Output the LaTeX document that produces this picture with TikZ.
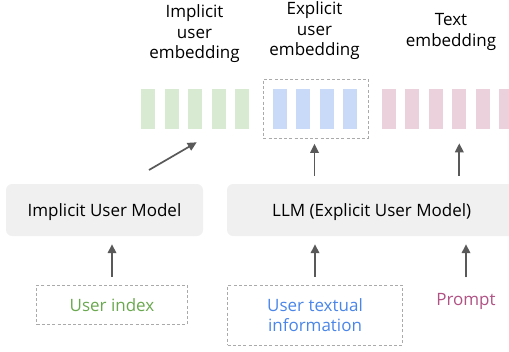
\documentclass[tikz,border=0pt]{standalone}
\usepackage{fontspec}
\setmainfont{Open Sans}
\usepackage{xcolor}
\usepackage{tikz}
\usetikzlibrary{arrows.meta,calc,positioning}
\definecolor{implbar}{HTML}{D9EAD3}
\definecolor{explbar}{HTML}{C9DAF8}
\definecolor{textbar}{HTML}{EAD1DC}
\definecolor{impltxt}{HTML}{6AA84F}
\definecolor{expltxt}{HTML}{4A86E8}
\definecolor{prompttxt}{RGB}{176,82,132}
\definecolor{arrowgray}{HTML}{595959}
\definecolor{dashgray}{HTML}{AAAAAA}
\newcommand{\BarW}{14}
\newcommand{\BarTop}{89}
\tikzset{
  every node/.style={font=\fontsize{17}{20.5}\selectfont, inner sep=0pt},
  model/.style={fill=black!6, rounded corners=6pt, minimum height=52pt},  % grey model box
  inbox/.style={draw=dashgray, line width=0.9pt, dash pattern=on 3pt off 2.2pt},
  grpbox/.style={inbox, minimum width=105pt, minimum height=59pt},
  embed/.style={align=center, text=black},
  flow/.style={-{Triangle[length=9pt,width=8.5pt]}, draw=arrowgray, fill=arrowgray, line width=1.7pt}
}
\newcommand{\DrawBars}[2]{%
  \foreach \x in {#2}{%
    \fill[#1] (\x,\BarTop) rectangle ++(\BarW,40);
  }%
}

\begin{document}
\begin{tikzpicture}[x=1pt, y=-1pt]
  \clip (0,0) rectangle (509,351);
  % embedding columns
  \DrawBars{implbar}{141,164.5,188,211.5,235}
  \DrawBars{explbar}{272.7,296,320,343.3}
  \DrawBars{textbar}{381.7,405.2,428.7,452.2,475.7,499.2}
  \node[grpbox] (egrp) at (315.8,108.8) {};
  % labels above
  \node[embed] (limpl) at (194.5,34) {Implicit\\user\\embedding};
  \node[embed] (lexpl) at (314.5,31) {Explicit\\user\\embedding};
  \node[embed] (ltext) at (451,32) {Text\\embedding};
  % the two models
  \node[model, minimum width=197pt, text depth=0pt] (ium) at (104.5,210) {Implicit User Model};
  \node[model, minimum width=289.4pt, text depth=0pt] (llm) at (371.7,210) {LLM (Explicit User Model)};
  % inputs
  \node[inbox, minimum width=150.6pt, minimum height=39.3pt, text=impltxt] (uidx) at (112,304.7) {User index};
  \node[inbox, minimum width=174.6pt, minimum height=60pt, text=expltxt, align=center] (utxt) at (315,315) {User textual\\information};
  \node[text=prompttxt] (prompt) at (466,301.7) {Prompt};
  % arrow ends
  \coordinate (eimpl) at (196.7,142.3);
  \coordinate (sexpl) at (314.5,175.7);
  \coordinate (stext) at (459.3,175.7);
  \draw[flow] (uidx.north) ++(0,-8) -- ($(uidx.north |- ium.south)+(0,8)$);
  \draw[flow] (utxt.north) ++(0,-8) -- ($(utxt.north |- llm.south)+(0,8)$);
  \draw[flow] (prompt.north) ++(0,-16) -- ($(prompt.north |- llm.south)+(0,8)$);
  \draw[flow] (149,170) -- (eimpl);
  \draw[flow] (sexpl) -- ($(sexpl |- egrp.south)+(0,5)$);
  \draw[flow] (stext) -- ++(0,-32.4);
\end{tikzpicture}
\end{document}
